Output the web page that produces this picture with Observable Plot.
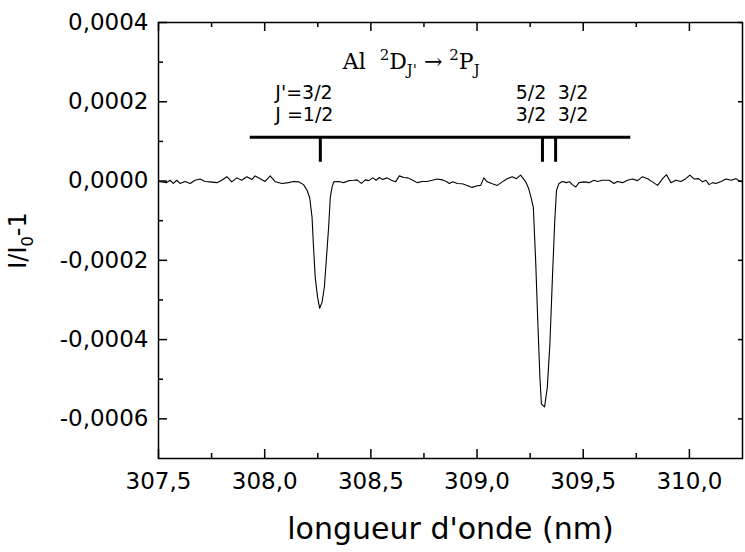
<!DOCTYPE html>
<html><head><meta charset="utf-8">
<script src="https://cdn.jsdelivr.net/npm/d3@7"></script>
<script src="https://cdn.jsdelivr.net/npm/@observablehq/plot@0.6"></script>
<style>body{margin:0;background:#fff;}</style>
</head><body><div id="chart"></div>
<script>
// Spectrum: wavelength (nm) and relative signal I/I0 - 1
const wavelength = [
307.500,307.515,307.539,307.554,307.570,307.586,307.601,307.625,307.649,307.672,
307.696,307.719,307.743,307.775,307.798,307.822,307.845,307.869,307.892,307.916,
307.940,307.955,307.979,308.002,308.026,308.050,308.081,308.112,308.136,308.159,
308.183,308.200,308.212,308.223,308.230,308.238,308.249,308.259,308.270,308.281,
308.290,308.301,308.309,308.317,308.325,308.348,308.372,308.395,308.419,308.435,
308.455,308.474,308.490,308.509,308.525,308.540,308.556,308.576,308.597,308.616,
308.634,308.655,308.675,308.697,308.718,308.742,308.765,308.789,308.812,308.836,
308.855,308.870,308.886,308.907,308.930,308.954,308.977,309.001,309.017,309.032,
309.048,309.072,309.095,309.119,309.142,309.166,309.185,309.205,309.229,309.243,
309.252,309.265,309.276,309.287,309.296,309.303,309.318,309.331,309.343,309.355,
309.366,309.374,309.386,309.402,309.421,309.436,309.449,309.465,309.480,309.504,
309.527,309.551,309.567,309.591,309.622,309.645,309.661,309.685,309.708,309.732,
309.756,309.779,309.803,309.826,309.850,309.874,309.892,309.913,309.936,309.960,
309.983,310.002,310.023,310.043,310.062,310.078,310.093,310.109,310.125,310.149,
310.172,310.196,310.219,310.238,310.250
];
const signal = [
-1e-6,-2e-6,-4e-6,2e-6,-6e-6,2e-6,-6e-6,-1e-6,-6e-6,2e-6,
5e-6,-1e-6,-2e-6,-4e-6,2e-6,11e-6,-2e-6,8e-6,2e-6,11e-6,
4e-6,13e-6,6e-6,-1e-6,13e-6,-2e-6,-6e-6,-4e-6,-1e-6,-2e-6,
-9e-6,-24e-6,-42e-6,-91e-6,-167e-6,-243e-6,-293e-6,-321e-6,-306e-6,-268e-6,
-201e-6,-117e-6,-41e-6,-16e-6,-2e-6,-1e-6,-4e-6,1e-6,2e-6,3e-6,
-6e-6,3e-6,1e-6,8e-6,2e-6,9e-6,4e-6,8e-6,2e-6,-2e-6,
13e-6,9e-6,8e-6,2e-6,-4e-6,-1e-6,-1e-6,2e-6,5e-6,3e-6,
-1e-6,-6e-6,-2e-6,-6e-6,-7e-6,-11e-6,-16e-6,-12e-6,-11e-6,8e-6,
-2e-6,-7e-6,-11e-6,-2e-6,6e-6,11e-6,6e-6,15e-6,-2e-6,-19e-6,
-37e-6,-66e-6,-201e-6,-369e-6,-495e-6,-562e-6,-570e-6,-520e-6,-411e-6,-243e-6,
-100e-6,-24e-6,-6e-6,-1e-6,-4e-6,-2e-6,-9e-6,-15e-6,-4e-6,-2e-6,
-4e-6,2e-6,-1e-6,2e-6,2e-6,-6e-6,-1e-6,-4e-6,2e-6,5e-6,
1e-6,11e-6,6e-6,-2e-6,-11e-6,6e-6,16e-6,-4e-6,2e-6,-1e-6,
6e-6,15e-6,5e-6,6e-6,-2e-6,2e-6,-9e-6,-4e-6,-6e-6,-1e-6,
5e-6,2e-6,6e-6,-1e-6,-2e-6
];

// Axes
const xDomain = [307.5, 310.25];
const yDomain = [-0.0007, 0.0004];
const xTicks = [307.5, 308.0, 308.5, 309.0, 309.5, 310.0];
const xTickLabels = ["307,5", "308,0", "308,5", "309,0", "309,5", "310,0"];
const xMinorTicks = [307.75, 308.25, 308.75, 309.25, 309.75];
const yTicks = [-0.0006, -0.0004, -0.0002, 0, 0.0002, 0.0004];
const yTickLabels = ["-0,0006", "-0,0004", "-0,0002", "0,0000", "0,0002", "0,0004"];
const yMinorTicks = [-0.0005, -0.0003, -0.0001, 0.0001, 0.0003];
const xTitle = "longueur d'onde (nm)";
const yTitleParts = [["I/I", 0], ["0", -1], ["-1", 0]];

// Annotation: transition lines
const annotTitleParts = [["Al  ", 0], ["2", 1], ["D", 0], ["J'", -1], [" \u2192 ", 0], ["2", 1], ["P", 0], ["J", -1]];
const annotTitleX = 308.690, annotTitleY = 0.000301;
const barSpan = [307.932, 309.724];
const barLevel = 0.0001105;
const markerEnd = 0.0000474;
const lineWavelengths = [308.262, 309.308, 309.370];
const labelText = ["J'=3/2", "J =1/2", "5/2", "3/2", "3/2", "3/2"];
const labelX = [308.050, 308.050, 309.182, 309.182, 309.380, 309.380];
const labelY = [0.000223, 0.000168, 0.000223, 0.000168, 0.000223, 0.000168];

const spectrum = wavelength.map((w, i) => ({w, v: signal[i]}));
const labels = labelText.map((t, i) => ({t, x: labelX[i], y: labelY[i]}));
const titleKey = annotTitleParts.map(p => p[0]).join("");
const yTitleKey = yTitleParts.map(p => p[0]).join("");
const fmtX = d => xTickLabels[xTicks.indexOf(d)];
const fmtY = d => yTickLabels[yTicks.findIndex(t => Math.abs(t - d) < 1e-9)];
const SANS = "'DejaVu Sans', Verdana, sans-serif";
const SERIF = "'DejaVu Serif', 'Liberation Serif', serif";
const TW = 1.5;

const W = 745, H = 552, ML = 158, MR = 3, MT = 22, MB = 94;
const PW = W - ML - MR, PH = H - MT - MB;   // plot area size in px
const pxX = (xDomain[1] - xDomain[0]) / PW;  // data units per px
const pxY = (yDomain[1] - yDomain[0]) / PH;
const MAJ = 9, MIN = 5, RMAJ = 4;             // tick lengths (px)

const plot = Plot.plot({
  width: W, height: H,
  marginLeft: ML, marginRight: MR, marginTop: MT, marginBottom: MB,
  style: {fontFamily: SANS, fontSize: "23px", color: "#000", background: "#fff"},
  x: {domain: xDomain},
  y: {domain: yDomain},
  marks: [
    Plot.line(spectrum, {x: "w", y: "v", stroke: "#000", strokeWidth: 1.1, clip: true}),
    // annotation bar and markers
    Plot.ruleY([barLevel], {y: d => d, x1: barSpan[0], x2: barSpan[1], strokeWidth: 3, stroke: "#000"}),
    Plot.ruleX(lineWavelengths, {x: d => d, y1: barLevel, y2: markerEnd, strokeWidth: 3, stroke: "#000"}),
    Plot.text(labels, {x: "x", y: "y", text: "t", textAnchor: "start", fontFamily: SANS, fontSize: 19, fill: "#000"}),
    Plot.text([titleKey], {x: annotTitleX, y: annotTitleY, text: d => d, fontFamily: SERIF, fontSize: 22, fill: "#000"}),
    // inward ticks
    Plot.ruleX(xTicks, {x: d => d, y1: yDomain[0], y2: yDomain[0] + MAJ * pxY, stroke: "#000", strokeWidth: TW}),
    Plot.ruleX(xMinorTicks, {x: d => d, y1: yDomain[0], y2: yDomain[0] + MIN * pxY, stroke: "#000", strokeWidth: TW}),
    Plot.ruleX(xTicks, {x: d => d, y1: yDomain[1], y2: yDomain[1] - MAJ * pxY, stroke: "#000", strokeWidth: TW}),
    Plot.ruleX(xMinorTicks, {x: d => d, y1: yDomain[1], y2: yDomain[1] - MIN * pxY, stroke: "#000", strokeWidth: TW}),
    Plot.ruleY(yTicks, {y: d => d, x1: xDomain[0], x2: xDomain[0] + MAJ * pxX, stroke: "#000", strokeWidth: TW}),
    Plot.ruleY(yMinorTicks, {y: d => d, x1: xDomain[0], x2: xDomain[0] + MIN * pxX, stroke: "#000", strokeWidth: TW}),
    Plot.ruleY(yTicks, {y: d => d, x1: xDomain[1], x2: xDomain[1] - RMAJ * pxX, stroke: "#000", strokeWidth: TW}),
    // tick labels
    Plot.axisX({anchor: "bottom", ticks: xTicks, tickFormat: fmtX, tickSize: 0, tickPadding: 14, label: null, fill: "#000"}),
    Plot.axisY({anchor: "left", ticks: yTicks, tickFormat: fmtY, tickSize: 0, tickPadding: 10, label: null, fill: "#000"}),
    // titles
    Plot.text([xTitle], {frameAnchor: "bottom", dy: 71, text: d => d, textAnchor: "middle", lineAnchor: "middle", fontFamily: SANS, fontSize: 30, fill: "#000"}),
    Plot.text([yTitleKey], {frameAnchor: "left", dx: -140, rotate: -90, text: d => d, textAnchor: "middle", lineAnchor: "middle", fontFamily: SANS, fontSize: 24, fill: "#000"}),
    Plot.frame({stroke: "#000", strokeWidth: 1.5})
  ]
});

// Rich text (super/subscripts) for titles
function richen(svg, key, parts, size) {
  d3.select(svg).selectAll("text").each(function () {
    if (this.textContent !== key) return;
    const el = d3.select(this);
    el.text(null);
    let level = 0;
    const off = lv => (lv === 1 ? -0.42 : lv === -1 ? 0.28 : 0) * size;
    for (const [t, lv] of parts) {
      el.append("tspan")
        .attr("dy", off(lv) - off(level))
        .attr("font-size", lv === 0 ? size : size * 0.68)
        .text(t);
      level = lv;
    }
  });
}
richen(plot, titleKey, annotTitleParts, 22);
richen(plot, yTitleKey, yTitleParts, 24);

document.getElementById("chart").appendChild(plot);
</script>
</body></html>
